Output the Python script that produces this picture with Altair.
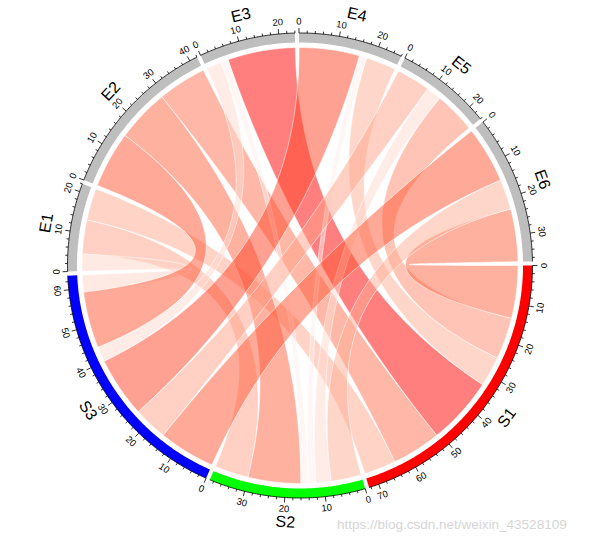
import math
import altair as alt
import pandas as pd

# ---------------- data ----------------
row_names = ["S1", "S2", "S3"]
col_names = ["E1", "E2", "E3", "E4", "E5", "E6"]
link_values = [
    [8.5, 13, 18, 8, 11, 14],   # S1 -> E1..E6
    [9, 14, 2, 2, 4, 8],        # S2 -> E1..E6
    [4.5, 15, 4, 16, 9, 15],    # S3 -> E1..E6
]
sector_colors = ["#FF0000", "#00FF00", "#0000FF",
                 "#BEBEBE", "#BEBEBE", "#BEBEBE", "#BEBEBE", "#BEBEBE", "#BEBEBE"]
link_color_range = ["#FFEEEE", "#FF0000"]
major_step = 10
minor_step = 2
watermark = "https://blog.csdn.net/weixin_43528109"

# ---------------- layout ----------------
W, H = 605, 544
CX, CY = 300.0, 265.5
R_LINK = 218.0
R_IN = 223.0
R_OUT = 232.5
R_TICKLAB = 244.0
R_NAME = 257.0
GAP = 1.0

sectors = row_names + col_names
sizes = [sum(r) for r in link_values] + [sum(link_values[i][j] for i in range(3)) for j in range(6)]
total = sum(sizes)
unit = (360.0 - GAP * len(sectors)) / total
starts = []
cur = 0.0
for s in sizes:
    starts.append(cur)
    cur += s * unit + GAP


def pt(theta, r):
    a = math.radians(theta)
    return CX + r * math.cos(a), CY + r * math.sin(a)


def arc_pts(t0, t1, r, step=0.4):
    n = max(2, int(abs(t1 - t0) / step) + 2)
    return [pt(t0 + (t1 - t0) * k / (n - 1), r) for k in range(n)]


def quad_pts(p0, p2, n=70):
    out = []
    for k in range(n + 1):
        t = k / n
        x = (1 - t) ** 2 * p0[0] + 2 * (1 - t) * t * CX + t * t * p2[0]
        y = (1 - t) ** 2 * p0[1] + 2 * (1 - t) * t * CY + t * t * p2[1]
        out.append((x, y))
    return out


# link positions
row_iv = {}
for i in range(3):
    c = starts[i]
    for j in reversed(range(6)):
        v = link_values[i][j]
        row_iv[(i, j)] = (c, c + v * unit)
        c += v * unit
col_iv = {}
for j in range(6):
    c = starts[3 + j]
    for i in reversed(range(3)):
        v = link_values[i][j]
        col_iv[(i, j)] = (c, c + v * unit)
        c += v * unit

chord_rows = []
for i in range(3):
    for j in range(6):
        a1, a2 = row_iv[(i, j)]
        b1, b2 = col_iv[(i, j)]
        pts = arc_pts(a1, a2, R_LINK)
        pts += quad_pts(pt(a2, R_LINK), pt(b1, R_LINK))
        pts += arc_pts(b1, b2, R_LINK)
        pts += quad_pts(pt(b2, R_LINK), pt(a1, R_LINK))
        for k, (x, y) in enumerate(pts):
            chord_rows.append({"link": f"{row_names[i]}-{col_names[j]}", "order": i * 6 + j,
                               "idx": k, "x": x, "y": y, "value": link_values[i][j]})
chords = pd.DataFrame(chord_rows)

track_rows = []
axis_rows = []
tick_rows = []
label_rows = []
name_rows = []


def facing(theta):
    rot = theta + 90.0
    th = theta % 360
    if 0 <= th < 180:
        rot -= 180.0
    return rot % 360


for s_idx, name in enumerate(sectors):
    s0 = starts[s_idx]
    s1 = s0 + sizes[s_idx] * unit
    poly = arc_pts(s0, s1, R_OUT) + arc_pts(s1, s0, R_IN)
    for k, (x, y) in enumerate(poly):
        track_rows.append({"sector": name, "idx": k, "x": x, "y": y, "color": sector_colors[s_idx]})
    for k, (x, y) in enumerate(arc_pts(s0, s1, R_OUT)):
        axis_rows.append({"sector": name, "idx": k, "x": x, "y": y})
    for v in range(0, int(sizes[s_idx]) + 1, minor_step):
        th = s0 + v * unit
        length = 5.0 if v % major_step == 0 else 2.5
        xa, ya = pt(th, R_OUT)
        xb, yb = pt(th, R_OUT + length)
        tick_rows.append({"x": xa, "y": ya, "x2": xb, "y2": yb})
        if v % major_step == 0:
            xl, yl = pt(th, R_TICKLAB)
            label_rows.append({"x": xl, "y": yl, "text": str(v), "rot": facing(th)})
    mid = (s0 + s1) / 2
    xn, yn = pt(mid, R_NAME)
    name_rows.append({"x": xn, "y": yn, "text": name, "rot": facing(mid)})

tracks = pd.DataFrame(track_rows)
axis_df = pd.DataFrame(axis_rows)
ticks = pd.DataFrame(tick_rows)
labels = pd.DataFrame(label_rows)
names = pd.DataFrame(name_rows)
wm = pd.DataFrame([{"x": 337.0, "y": 525.0, "text": watermark}])

xs = alt.Scale(domain=[0, W], nice=False, zero=False)
ys = alt.Scale(domain=[0, H], nice=False, zero=False, reverse=True)
X = alt.X("x:Q", scale=xs, axis=None)
Y = alt.Y("y:Q", scale=ys, axis=None)

chord_layer = alt.Chart(chords).mark_line(
    filled=True, fillOpacity=0.5, stroke="white", strokeWidth=0.7, strokeOpacity=0.8
).encode(
    x=X, y=Y,
    detail="link:N",
    order=alt.Order("idx:Q"),
    fill=alt.Fill("value:Q", scale=alt.Scale(domain=[min(min(r) for r in link_values),
                                                    max(max(r) for r in link_values)],
                                            range=link_color_range, interpolate="lab"),
                  legend=None),
)

track_layer = alt.Chart(tracks).mark_line(filled=True, strokeWidth=0).encode(
    x=X, y=Y,
    detail="sector:N",
    order=alt.Order("idx:Q"),
    fill=alt.Fill("color:N", scale=None),
)

axis_layer = alt.Chart(axis_df).mark_line(color="black", strokeWidth=0.8).encode(
    x=X, y=Y, detail="sector:N", order=alt.Order("idx:Q")
)

tick_layer = alt.Chart(ticks).mark_rule(color="black", strokeWidth=0.8).encode(
    x=X, y=Y, x2="x2:Q", y2="y2:Q"
)

label_layer = alt.Chart(labels).mark_text(
    font="Liberation Sans", fontSize=9.5, align="center", baseline="middle", color="black"
).encode(x=X, y=Y, text="text:N", angle=alt.Angle("rot:Q", scale=None))

name_layer = alt.Chart(names).mark_text(
    font="Liberation Sans", fontSize=16, align="center", baseline="middle", color="black"
).encode(x=X, y=Y, text="text:N", angle=alt.Angle("rot:Q", scale=None))

wm_layer = alt.Chart(wm).mark_text(
    font="Liberation Sans", fontSize=13.5, align="left", baseline="middle", color="#D6D6D6"
).encode(x=X, y=Y, text="text:N")

chart = alt.layer(
    chord_layer, track_layer, axis_layer, tick_layer, label_layer, name_layer, wm_layer
).resolve_scale(fill="independent").properties(
    width=W, height=H, padding=0, autosize=alt.AutoSizeParams(type="none")
).configure_view(stroke=None)

chart.save("out.html", embed_options={"renderer": "svg", "actions": False})
